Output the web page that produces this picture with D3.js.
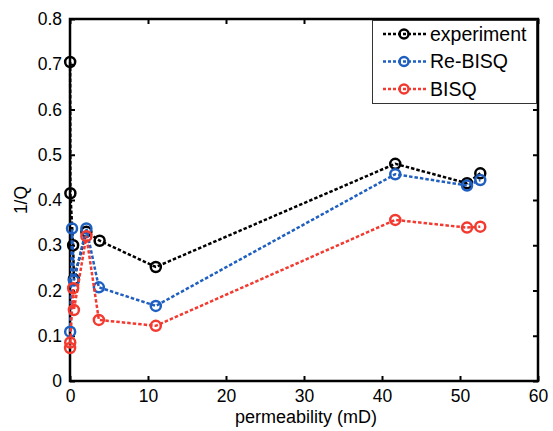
<!DOCTYPE html>
<html>
<head>
<meta charset="utf-8">
<script src="https://cdn.jsdelivr.net/npm/d3@7"></script>
<style>
  html, body { margin: 0; padding: 0; background: #fff; }
  svg { display: block; font-family: "Liberation Sans", Arial, sans-serif; }
</style>
</head>
<body>
<svg id="chart" width="553" height="431"></svg>
<script>
// Attenuation (1/Q) against permeability
const expX   = [0.02, 0.05, 0.40, 0.50, 2.1, 3.8, 11.0, 41.7, 50.9, 52.6];
const expY   = [0.705, 0.415, 0.300, 0.225, 0.330, 0.310, 0.252, 0.480, 0.437, 0.459];
const reX    = [0.02, 0.26, 0.50, 2.1, 3.7, 11.0, 41.7, 50.9, 52.6];
const reY    = [0.109, 0.337, 0.222, 0.337, 0.207, 0.166, 0.457, 0.432, 0.444];
const bisqX  = [0.01, 0.03, 0.40, 0.50, 2.1, 3.7, 11.0, 41.7, 50.9, 52.6];
const bisqY  = [0.073, 0.085, 0.205, 0.157, 0.320, 0.135, 0.122, 0.356, 0.339, 0.341];

const seriesNames  = ["experiment", "Re-BISQ", "BISQ"];
const seriesColors = ["#000000", "#1f5fc0", "#f23a30"];
const xTicks = [0, 10, 20, 30, 40, 50, 60];
const yTicks = [0, 0.1, 0.2, 0.3, 0.4, 0.5, 0.6, 0.7, 0.8];

const series = [
  { name: seriesNames[0], color: seriesColors[0], x: expX,  y: expY },
  { name: seriesNames[1], color: seriesColors[1], x: reX,   y: reY },
  { name: seriesNames[2], color: seriesColors[2], x: bisqX, y: bisqY }
];

const svg = d3.select("#chart");
const m = { left: 70, right: 15, top: 19, bottom: 50 };
const W = 553, H = 431;

const x = d3.scaleLinear().domain([0, 60]).range([m.left, W - m.right]);
const y = d3.scaleLinear().domain([0, 0.8]).range([H - m.bottom, m.top]);

const fmtY = d => d === 0 ? "0" : d3.format(".1f")(d);

// axes, ticks pointing inwards on all four sides
const axB = svg.append("g").attr("transform", `translate(0,${y(0)})`)
  .call(d3.axisBottom(x).tickValues(xTicks).tickSizeInner(-5).tickSizeOuter(0).tickPadding(9));
const axT = svg.append("g").attr("transform", `translate(0,${y(0.8)})`)
  .call(d3.axisTop(x).tickValues(xTicks).tickSizeInner(-5).tickSizeOuter(0).tickFormat(""));
const axL = svg.append("g").attr("transform", `translate(${x(0)},0)`)
  .call(d3.axisLeft(y).tickValues(yTicks).tickSizeInner(-5).tickSizeOuter(0).tickPadding(8).tickFormat(fmtY));
const axR = svg.append("g").attr("transform", `translate(${x(60)},0)`)
  .call(d3.axisRight(y).tickValues(yTicks).tickSizeInner(-5).tickSizeOuter(0).tickFormat(""));

[axB, axT, axL, axR].forEach(g => {
  g.select(".domain").remove();
  g.selectAll(".tick line").attr("stroke", "#000").attr("stroke-width", 2);
  g.selectAll("text").attr("font-size", 17.5).attr("fill", "#000")
    .attr("font-family", "'Liberation Sans', Arial, sans-serif");
});

// plot frame
svg.append("rect")
  .attr("x", x(0)).attr("y", y(0.8))
  .attr("width", x(60) - x(0)).attr("height", y(0) - y(0.8))
  .attr("fill", "none").attr("stroke", "#000").attr("stroke-width", 2.5);

// axis titles
svg.append("text")
  .attr("x", (x(0) + x(60)) / 2 + 2).attr("y", 423)
  .attr("text-anchor", "middle").attr("font-size", 18).attr("fill", "#000")
  .text("permeability (mD)");
svg.append("text")
  .attr("transform", `translate(27,${(y(0) + y(0.8)) / 2}) rotate(-90)`)
  .attr("text-anchor", "middle").attr("font-size", 17.5).attr("fill", "#000")
  .text("1/Q");

// series lines and markers
const line = d3.line().x(d => x(d[0])).y(d => y(d[1]));
series.forEach(s => {
  const pts = s.x.map((v, i) => [v, s.y[i]]);
  const g = svg.append("g");
  g.append("path").datum(pts)
    .attr("d", line).attr("fill", "none")
    .attr("stroke", s.color).attr("stroke-width", 2.5)
    .attr("stroke-dasharray", "3.5,2");
  g.selectAll("circle").data(pts).join("circle")
    .attr("cx", d => x(d[0])).attr("cy", d => y(d[1])).attr("r", 5)
    .attr("fill", "none").attr("stroke", s.color).attr("stroke-width", 2.5);
});

// legend
const lg = svg.append("g");
lg.append("rect").attr("x", 372.5).attr("y", 20.5).attr("width", 164).attr("height", 83)
  .attr("fill", "#fff").attr("stroke", "#333").attr("stroke-width", 1);
series.forEach((s, i) => {
  const cy = 34 + i * 27.5;
  lg.append("line").attr("x1", 383).attr("x2", 426).attr("y1", cy).attr("y2", cy)
    .attr("stroke", s.color).attr("stroke-width", 2.5).attr("stroke-dasharray", "3,2");
  lg.append("circle").attr("cx", 404).attr("cy", cy).attr("r", 4.5)
    .attr("fill", "none").attr("stroke", s.color).attr("stroke-width", 2.5);
  lg.append("text").attr("x", 430).attr("y", cy).attr("dy", "0.35em")
    .attr("font-size", 19.5).attr("fill", "#000").text(s.name);
});
</script>
</body>
</html>
